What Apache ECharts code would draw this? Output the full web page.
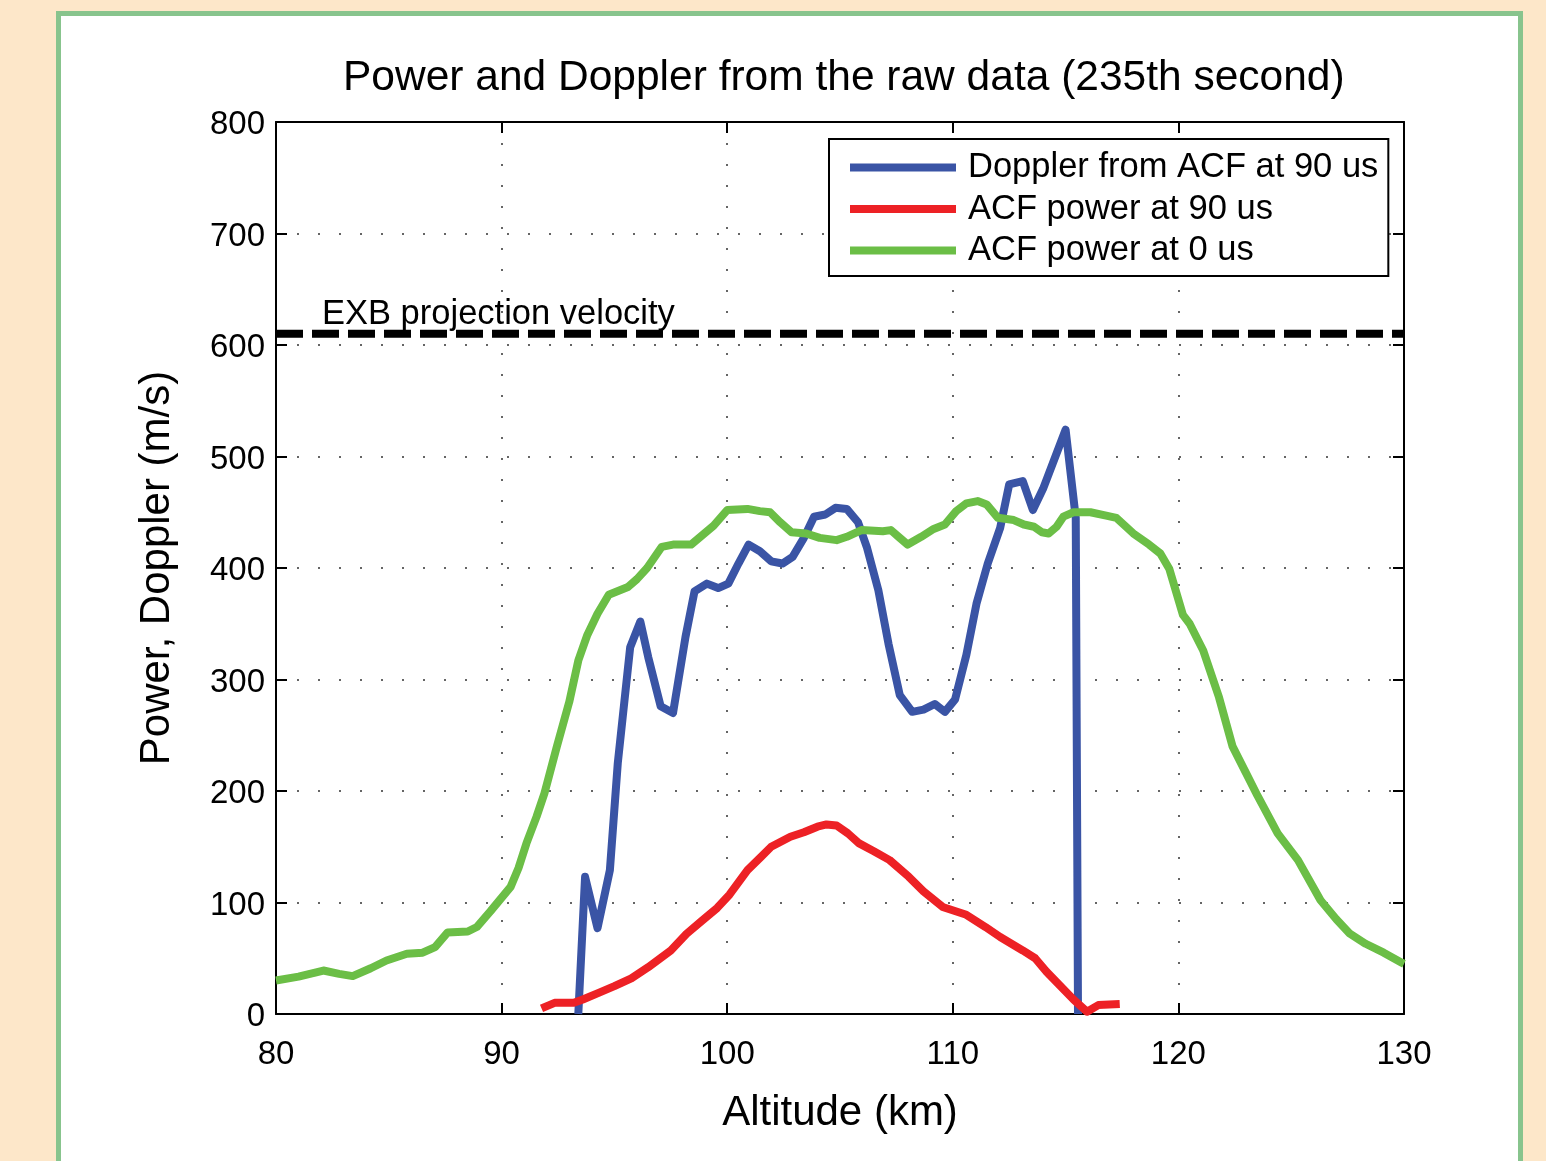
<!DOCTYPE html>
<html>
<head>
<meta charset="utf-8">
<script src="https://cdn.jsdelivr.net/npm/echarts/dist/echarts.min.js"></script>
<style>
  html, body { margin: 0; padding: 0; background: #fde7c9; overflow: hidden; }
  #panel { position: absolute; left: 56px; top: 11px; width: 1467px; height: 1200px;
           box-sizing: border-box; border: 5px solid #88c48d; background: #fff; }
  #chart { position: absolute; left: 0; top: 0; width: 1546px; height: 1161px; }
</style>
</head>
<body>
<div id="panel"></div>
<div id="chart"></div>
<script>
// Doppler from ACF at 90 us
let dopplerAlt = [93.4, 93.7, 94.25, 94.8, 95.15, 95.7, 96.15, 96.5, 97.05, 97.6, 98.15, 98.55, 99.1, 99.6,
  100.05, 100.5, 100.95, 101.45, 101.95, 102.45, 102.9, 103.4, 103.85, 104.35, 104.8, 105.3, 105.8, 106.2,
  106.7, 107.15, 107.65, 108.2, 108.7, 109.2, 109.65, 110.1, 110.6, 111.05, 111.55, 112.1, 112.5, 113.1,
  113.55, 114.0, 115.0, 115.45, 115.55];
let dopplerVel = [0, 123, 77, 129, 225, 329, 352, 320, 276, 270, 338, 379, 386, 382,
  386, 404, 421, 415, 406, 404, 410, 427, 446, 448, 454, 453, 441, 418,
  380, 332, 286, 271, 273, 278, 271, 282, 322, 368, 404, 436, 475, 478,
  452, 471, 524, 445, 0];

// ACF power at 90 us
let pow90Alt = [91.77, 92.35, 93.2, 93.6, 94.3, 95.0, 95.75, 96.5, 97.5, 98.2, 98.9, 99.55, 100.1, 100.9,
  101.5, 101.95, 102.8, 103.4, 104.0, 104.4, 104.85, 105.35, 105.85, 106.5, 107.2, 108.05, 108.7, 109.55,
  110.6, 111.45, 112.1, 113.1, 113.65, 114.15, 115.35, 115.95, 116.45, 117.4];
let pow90Val = [5, 10, 10, 13, 19, 25, 32, 42, 57, 72, 84, 95, 107, 129,
  141, 150, 159, 163, 168, 170, 169, 162, 153, 146, 138, 123, 110, 96,
  89, 78, 69, 57, 50, 38, 13, 2, 8, 9];

// ACF power at 0 us
let pow0Alt = [80.0, 81.0, 82.1, 82.8, 83.4, 84.2, 84.9, 85.8, 86.5, 87.05, 87.6, 88.5, 88.9, 89.5,
  90.4, 90.75, 91.1, 91.55, 91.9, 92.45, 93.0, 93.4, 93.8, 94.25, 94.75, 95.6, 96.0, 96.45, 97.1,
  97.6, 98.4, 99.4, 100.0, 100.9, 101.45, 101.9, 102.35, 102.85, 103.5, 104.1, 104.85, 105.3, 105.95,
  106.9, 107.25, 107.65, 108.0, 108.6, 109.15, 109.65, 110.15, 110.6, 111.1, 111.5, 112.0, 112.7,
  113.15, 113.6, 113.95, 114.25, 114.6, 114.9, 115.35, 116.1, 116.8, 117.25, 118.0, 118.7, 119.2,
  119.6, 120.2, 120.5, 121.1, 121.8, 122.4, 123.0, 123.5, 124.4, 125.3, 126.3, 127.0, 127.6, 128.3,
  129.1, 129.9, 130.0];
let pow0Val = [30, 33.5, 39, 36, 34, 41, 48, 54, 55, 60, 73, 74, 78, 92,
  114, 131, 153, 177, 198, 240, 280, 317, 340, 359, 376, 383, 390, 400, 419,
  421, 421, 438, 452, 453, 451, 450, 441, 432, 431, 427, 425, 428, 434,
  433, 434, 427, 421, 428, 435, 439, 451, 458, 460, 457, 445, 443,
  439, 437, 432, 431, 437, 446, 450, 450, 447, 445, 431, 421, 413,
  399, 358, 350, 326, 284, 240, 216, 196, 162, 138, 102, 85, 72, 63,
  55, 46, 45];

// EXB projection velocity (m/s)
let exbVelocity = 610;

let zip = (xs, ys) => xs.map((x, i) => [x, ys[i]]);

let font = 'Liberation Sans';
let dotted = { color: '#333', width: 1.5, type: [2, 19] };
let frame = { show: true, onZero: false, lineStyle: { color: '#000', width: 2 } };
let tick = { show: true, inside: true, length: 11, lineStyle: { color: '#000', width: 2 } };

let option = {
  animation: false,
  title: {
    text: 'Power and Doppler from the raw data (235th second)',
    left: 343, top: 57, padding: 0,
    textStyle: { fontFamily: font, fontSize: 42.5, fontWeight: 'normal', color: '#000' }
  },
  legend: {
    data: ['Doppler from ACF at 90 us', 'ACF power at 90 us', 'ACF power at 0 us'],
    orient: 'vertical',
    left: 829, top: 139,
    padding: [11, 10, 8, 21],
    itemGap: 6.5,
    itemWidth: 106, itemHeight: 8,
    icon: 'rect',
    borderColor: '#000', borderWidth: 2,
    backgroundColor: '#fff',
    textStyle: { fontFamily: font, fontSize: 34.5, lineHeight: 34, color: '#000', padding: [0, 0, 0, 7] }
  },
  grid: { left: 276, top: 122, right: 142, bottom: 147 },
  xAxis: [
    {
      type: 'value', min: 80, max: 130, interval: 10,
      name: 'Altitude (km)', nameLocation: 'middle', nameGap: 78,
      nameTextStyle: { fontFamily: font, fontSize: 42, color: '#000' },
      axisLine: frame, axisTick: tick,
      axisLabel: { fontFamily: font, fontSize: 33, color: '#000', margin: 24 },
      splitLine: { show: true, lineStyle: dotted }
    },
    {
      type: 'value', position: 'top', min: 80, max: 130, interval: 10,
      axisLine: frame, axisTick: tick, axisLabel: { show: false }, splitLine: { show: false }
    }
  ],
  yAxis: [
    {
      type: 'value', min: 0, max: 800, interval: 100,
      name: 'Power, Doppler (m/s)', nameLocation: 'middle', nameGap: 98,
      nameTextStyle: { fontFamily: font, fontSize: 42, color: '#000' },
      axisLine: frame, axisTick: tick,
      axisLabel: { fontFamily: font, fontSize: 33, color: '#000', margin: 11, verticalAlign: 'top', lineHeight: 6 },
      splitLine: { show: true, lineStyle: dotted }
    },
    {
      type: 'value', position: 'right', min: 0, max: 800, interval: 100,
      axisLine: frame, axisTick: tick, axisLabel: { show: false }, splitLine: { show: false }
    }
  ],
  graphic: [
    {
      type: 'text', left: 322, top: 297, z: 10,
      style: { text: 'EXB projection velocity', font: '34.5px "Liberation Sans"', fill: '#000' }
    }
  ],
  series: [
    {
      name: 'EXB', type: 'line', showSymbol: false, silent: true,
      data: [[80, exbVelocity], [130, exbVelocity]],
      lineStyle: { color: '#000', width: 8, type: [27, 9] }
    },
    {
      name: 'Doppler from ACF at 90 us', type: 'line', showSymbol: false,
      data: zip(dopplerAlt, dopplerVel), color: '#3a54a5',
      lineStyle: { color: '#3a54a5', width: 8, join: 'round' }
    },
    {
      name: 'ACF power at 90 us', type: 'line', showSymbol: false,
      data: zip(pow90Alt, pow90Val), color: '#ed2125',
      lineStyle: { color: '#ed2125', width: 8, join: 'round' }
    },
    {
      name: 'ACF power at 0 us', type: 'line', showSymbol: false,
      data: zip(pow0Alt, pow0Val), color: '#6bbe46',
      lineStyle: { color: '#6bbe46', width: 8, join: 'round' }
    }
  ]
};

var myChart = echarts.init(document.getElementById('chart'));
myChart.setOption(option);
</script>
</body>
</html>
